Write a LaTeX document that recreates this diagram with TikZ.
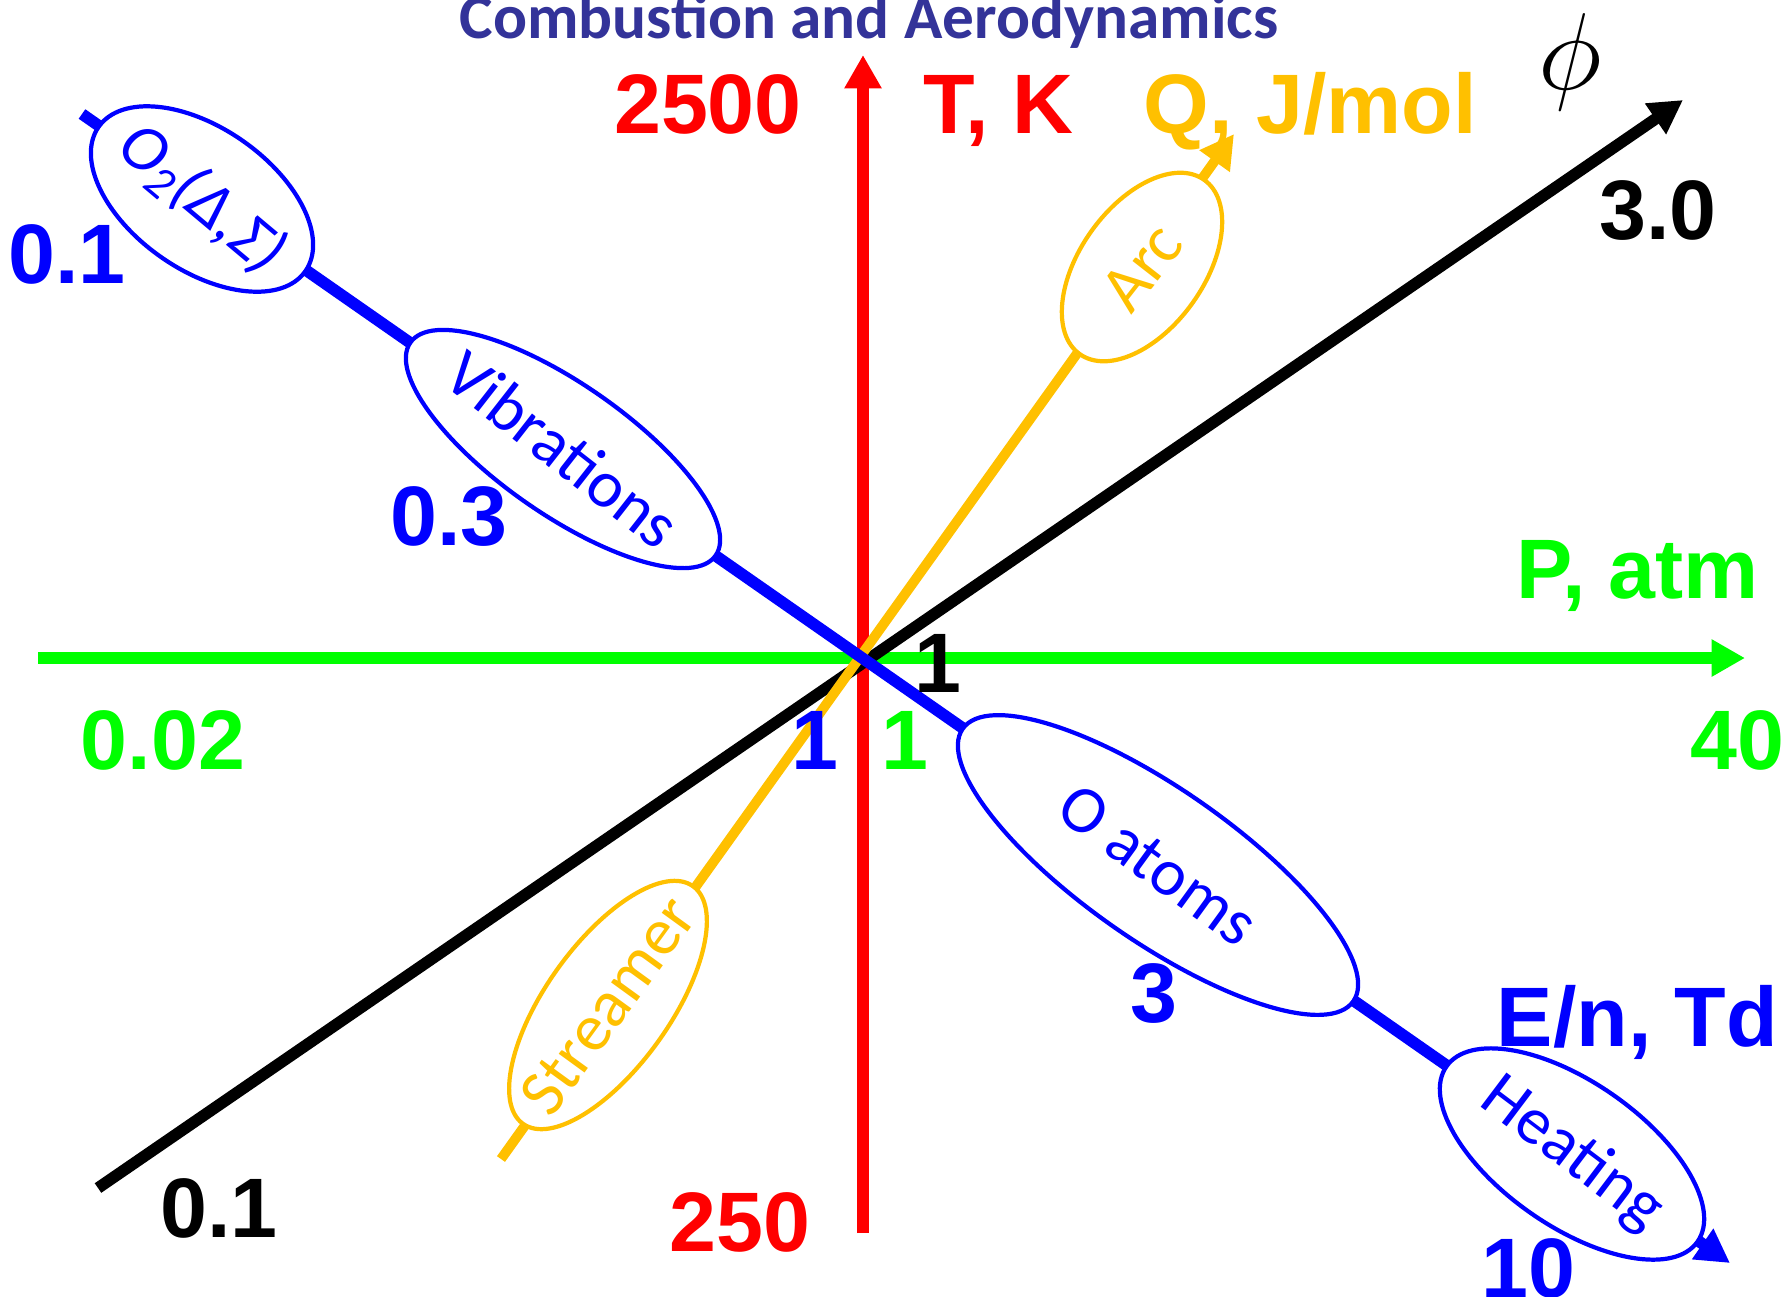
\documentclass[tikz,border=0pt]{standalone}
\usepackage{graphicx}
\usepackage{fontspec}
\setmainfont{Liberation Sans}
\newfontfamily\calfont{Carlito}
\usetikzlibrary{arrows.meta,shapes.geometric}
\definecolor{gold}{RGB}{255,192,0}
\definecolor{navy}{RGB}{51,51,153}

\begin{document}
\begin{tikzpicture}[x=0.01cm, y=-0.01cm,
    axis/.style={line width=3.3pt, -{Triangle[length=9.5pt,width=10pt]}},
    bubble/.style={ellipse, line width=1.2pt, fill=white, inner sep=0pt},
    num/.style={font=\fontsize{24}{24}\selectfont\bfseries, inner sep=0pt, anchor=base},
    tag/.style={font=\calfont\fontsize{19}{19}\selectfont, inner sep=0pt}]

        \useasboundingbox (0,0) rectangle (1787,1296);

        % Title
        \node[font=\calfont\bfseries\fontsize{18}{18}\selectfont, text=navy, anchor=base, inner sep=0pt] (title) at (869,38) {Combustion and Aerodynamics};

        % End points of the five axes
        \coordinate (Pmin) at (38,658);    \coordinate (Pmax) at (1745,658);
        \coordinate (Tmin) at (863,1233);  \coordinate (Tmax) at (863,55);
        \coordinate (phimin) at (98,1188); \coordinate (phimax) at (1683,100);
        \coordinate (Qmin) at (501,1159);  \coordinate (Qmax) at (1234,134);
        \coordinate (Emin) at (82,114);    \coordinate (Emax) at (1730,1263);

        \draw[axis, green] (Pmin) -- (Pmax);
        \draw[axis, red] (Tmin) -- (Tmax);
        \draw[axis, black] (phimin) -- (phimax);
        \draw[axis, gold, line width=2.8pt] (Qmin) -- (Qmax);
        \draw[axis, blue] (Emin) -- (Emax);

        % Regimes along E/n
        \node[bubble, draw=blue, minimum width=2.52cm, minimum height=1.42cm, rotate=-34.9] (oxy) at (202,199) {};
        \node[bubble, draw=blue, minimum width=3.72cm, minimum height=1.30cm, rotate=-34.9] (vib) at (563,449) {};
        \node[bubble, draw=blue, minimum width=4.76cm, minimum height=1.52cm, rotate=-34.9] (atoms) at (1158,865) {};
        \node[bubble, draw=blue, minimum width=3.06cm, minimum height=1.44cm, rotate=-34.9] (heat) at (1572,1154) {};
        \node[tag, text=blue, rotate=-40] (oxytxt) at (oxy) {\itshape O\textsubscript{2}(Δ,Σ)};
        \node[tag, text=blue, rotate=-38] (vibtxt) at (vib) {Vibrations};
        \node[tag, text=blue, rotate=-36] (atomstxt) at (atoms) {O atoms};
        \node[tag, text=blue, rotate=-37] (heattxt) at (heat) {Heating};

        % Regimes along Q
        \node[bubble, draw=gold, minimum width=2.14cm, minimum height=1.24cm, rotate=54.4] (arc) at (1142,267) {};
        \node[bubble, draw=gold, minimum width=2.92cm, minimum height=1.24cm, rotate=54.4] (streamer) at (608,1005) {};
        \node[tag, text=gold, rotate=52] (arctxt) at (arc) {Arc};
        \node[tag, text=gold, rotate=54] (streamertxt) at (streamer) {Streamer};

        % Axis names
        \node[num, text=red, anchor=base west] (Tname) at (923,133) {T, K};
        \node[num, text=gold, anchor=base west] (Qname) at (1143,133) {Q, J/mol};
        \node[font=\fontsize{24.88}{25}\selectfont, inner sep=0pt] (phiname) at (1570,62) {\scalebox{1.25}{$\phi$}};
        \node[num, text=green, anchor=base west] (Pname) at (1516,598) {P, atm};
        \node[num, text=blue, anchor=base west] (Ename) at (1496,1046) {E/n, Td};

        % Axis values
        \node[num, text=red] (Thigh) at (708,133) {2500};
        \node[num, text=red] (Tlow) at (740,1251) {250};
        \node[num, text=black] (phihigh) at (1658,239) {3.0};
        \node[num, text=black] (philow) at (219,1237) {0.1};
        \node[num, text=black] (phimid) at (938,692) {1};
        \node[num, text=green] (Plow) at (163,769) {0.02};
        \node[num, text=green] (Pmid) at (905,769) {1};
        \node[num, text=green] (Phigh) at (1737,769) {40};
        \node[num, text=blue] (Elow) at (67,283) {0.1};
        \node[num, text=blue] (Evib) at (449,545) {0.3};
        \node[num, text=blue] (Emid) at (815,769) {1};
        \node[num, text=blue] (Eatoms) at (1154,1022) {3};
        \node[num, text=blue] (Ehigh) at (1528,1297) {10};

\end{tikzpicture}
\end{document}
